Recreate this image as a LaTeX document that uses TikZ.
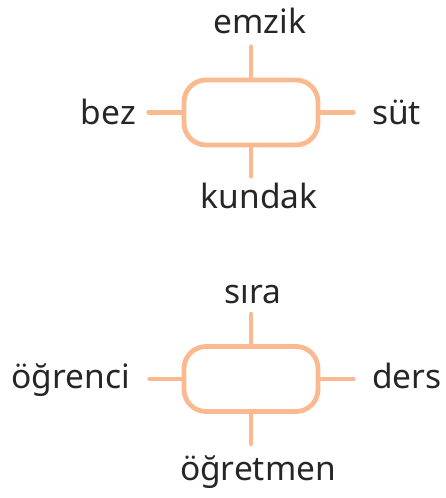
\documentclass[tikz,border=0pt]{standalone}
\usepackage{fontspec}
\setmainfont{Noto Sans}
\definecolor{peach}{HTML}{FBB98F}
\definecolor{ink}{HTML}{262626}
\begin{document}
\begin{tikzpicture}[x=1pt,y=-1pt,
  box/.style={draw=peach,line width=4.8pt,rounded corners=22pt,minimum width=134pt,minimum height=65pt,inner sep=0pt},
  link/.style={draw=peach,line width=4.6pt,line cap=round},
  lbl/.style={inner sep=0pt,text=ink,font=\fontsize{33.5}{36}\selectfont}]
\useasboundingbox (0,0) rectangle (446,498);
% first group
\node[box] (b1) at (251,112.5) {};
\coordinate (b1t) at ([yshift=31pt]b1.north);
\coordinate (b1b) at ([yshift=-29pt]b1.south);
\coordinate (b1l) at ([xshift=-33pt]b1.west);
\coordinate (b1r) at ([xshift=33pt]b1.east);
\draw[link] (b1.north) -- (b1t);
\draw[link] (b1.south) -- (b1b);
\draw[link] (b1.west) -- (b1l);
\draw[link] (b1.east) -- (b1r);
\node[lbl,anchor=base] (emzik) at (260,33) {emzik};
\node[lbl,anchor=base east] (bez) at (136,124) {bez};
\node[lbl,anchor=base west] (sut) at (372,124) {süt};
\node[lbl,anchor=base] (kundak) at (259,208) {kundak};
% second group
\node[box] (b2) at (251,379) {};
\coordinate (b2t) at ([yshift=30pt]b2.north);
\coordinate (b2b) at ([yshift=-30pt]b2.south);
\coordinate (b2l) at ([xshift=-32pt]b2.west);
\coordinate (b2r) at ([xshift=33pt]b2.east);
\draw[link] (b2.north) -- (b2t);
\draw[link] (b2.south) -- (b2b);
\draw[link] (b2.west) -- (b2l);
\draw[link] (b2.east) -- (b2r);
\node[lbl,anchor=base] (sira) at (253,303) {sıra};
\node[lbl,anchor=base east] (ogrenci) at (130,388) {öğrenci};
\node[lbl,anchor=base west] (ders) at (372,388) {ders};
\node[lbl,anchor=base] (ogretmen) at (258,480) {öğretmen};
\end{tikzpicture}
\end{document}
